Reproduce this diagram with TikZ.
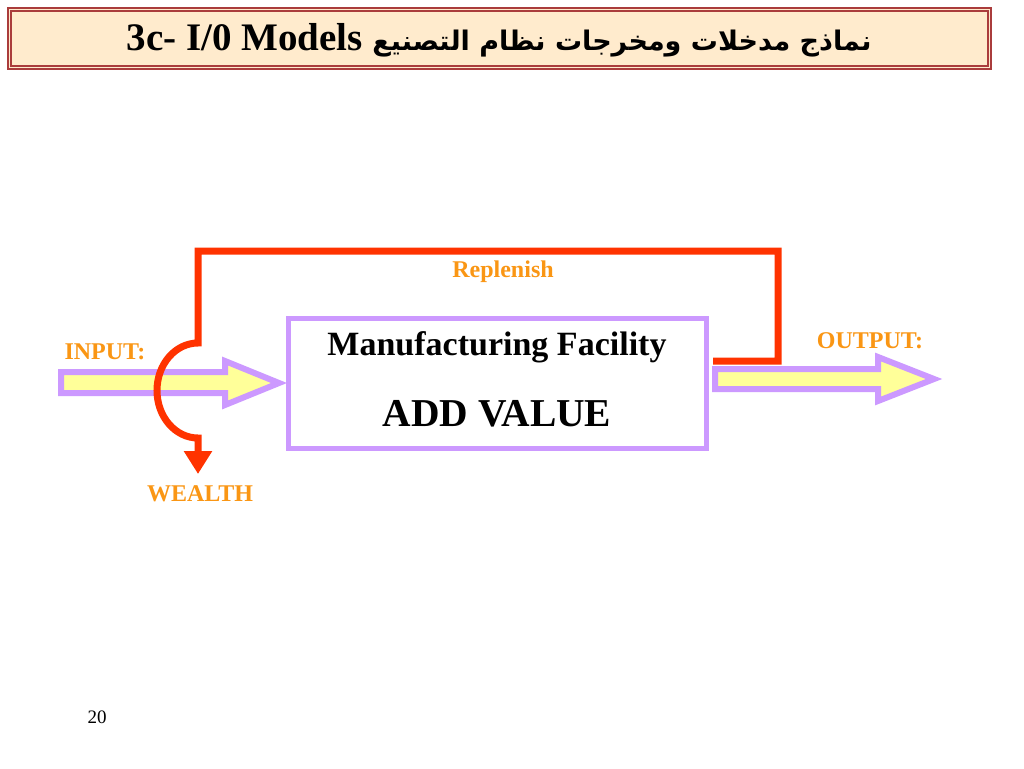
\documentclass[tikz,border=0pt]{standalone}
\usepackage{fontspec}
\setmainfont{Liberation Serif}
\newfontfamily\arabicfont[Script=Arabic]{DejaVu Sans}
\TeXXeTstate=1
\usetikzlibrary{arrows.meta}
\definecolor{redl}{RGB}{255,51,0}
\definecolor{purp}{RGB}{204,153,255}
\definecolor{yel}{RGB}{255,255,153}
\definecolor{orng}{RGB}{250,150,20}
\definecolor{titlefill}{RGB}{255,235,205}
\definecolor{titleline}{RGB}{170,60,60}
\tikzset{
  lbl/.style={font=\fontsize{24}{28}\selectfont\bfseries, text=orng, inner sep=0pt},
  fatarrow/.style={draw=purp, fill=yel, line width=6, line join=miter},
  redpath/.style={draw=redl, line width=7, line join=miter},
  facbox/.style={draw=purp, line width=5, fill=white, minimum width=418, minimum height=130, inner sep=0pt}
}
\begin{document}
\begin{tikzpicture}[x=1pt,y=-1pt]
\useasboundingbox[fill=white] (0,0) rectangle (1024,768);
% title
\filldraw[fill=titlefill, draw=titleline, line width=2] (8,8) rectangle (991,69);
\draw[titleline, line width=1.2] (11,11) rectangle (988,66);
\node[inner sep=0pt, font=\fontsize{39}{44}\selectfont\bfseries] (title) at (499,40)
  {3c- I/0 Models {\arabicfont\bfseries\fontsize{27}{36}\selectfont\beginR نماذج مدخلات ومخرجات نظام التصنيع\endR}};
% facility box
\node[facbox] (fac) at (497,383) {};
\node[inner sep=0pt, font=\fontsize{34}{38}\selectfont\bfseries] (mf) at (497,347) {Manufacturing Facility};
\node[inner sep=0pt, font=\fontsize{39.5}{44}\selectfont\bfseries] (av) at (497,414) {ADD VALUE};
% input arrow
\draw[fatarrow] (61,372) -- (225,372) -- (225,361) -- (279,383) -- (225,405) -- (225,393) -- (61,393) -- cycle;
% output arrow
\draw[fatarrow] (715,369) -- (878,369) -- (878,357) -- (934,379) -- (878,401) -- (878,389) -- (715,389) -- cycle;
% red replenish loop
\coordinate (rs) at (713,361);
\coordinate (rc1) at (778,361);
\coordinate (rc2) at (778,251);
\coordinate (rc3) at (198,251);
\coordinate (ra) at (198,343);
\coordinate (wtip) at (198,474);
\draw[redpath, -{Triangle[width=27pt,length=23pt]}] (rs) -- (rc1) -- (rc2) -- (rc3) -- (ra)
   arc[start angle=270, end angle=90, x radius=41, y radius=47.5] -- (wtip);
% labels
\node[lbl] (repl) at (503,272) {Replenish};
\node[lbl] (inp) at (105,352) {INPUT:};
\node[lbl] (outp) at (870,341) {OUTPUT:};
\node[lbl] (wealth) at (200,494) {WEALTH};
\node[inner sep=0pt, font=\fontsize{19}{22}\selectfont] (pg) at (97,717) {20};
\end{tikzpicture}
\end{document}
